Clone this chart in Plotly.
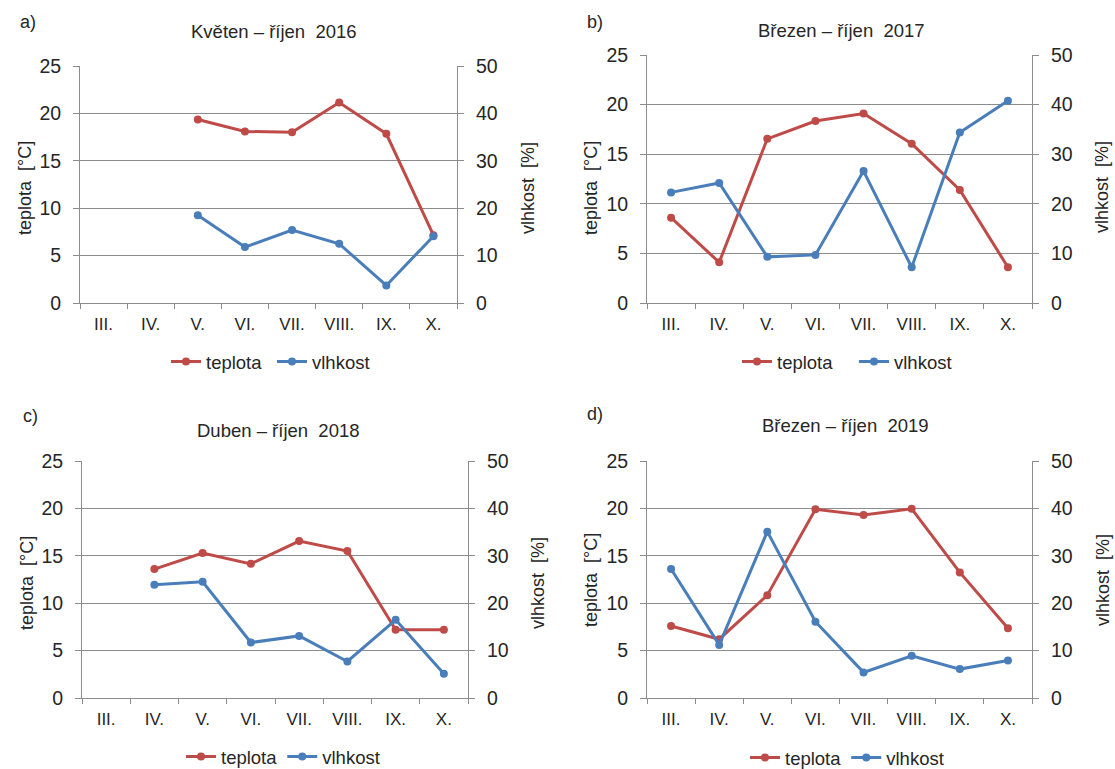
import plotly.graph_objects as go

W, H = 1115, 769

months = ["III.", "IV.", "V.", "VI.", "VII.", "VIII.", "IX.", "X."]

# monthly mean temperature [°C]
temp_2016 = [None, None, 19.35, 18.1, 18.0, 21.15, 17.85, 7.15]
temp_2017 = [8.6, 4.1, 16.55, 18.35, 19.1, 16.05, 11.4, 3.6]
temp_2018 = [None, 13.6, 15.3, 14.15, 16.55, 15.5, 7.2, 7.2]
temp_2019 = [7.6, 6.2, 10.85, 19.9, 19.3, 19.95, 13.25, 7.35]

# monthly mean soil moisture [%]
hum_2016 = [None, None, 18.5, 11.8, 15.4, 12.5, 3.7, 14.1]
hum_2017 = [22.3, 24.2, 9.3, 9.7, 26.6, 7.2, 34.4, 40.8]
hum_2018 = [None, 23.9, 24.5, 11.7, 13.1, 7.7, 16.5, 5.1]
hum_2019 = [27.2, 11.2, 35.1, 16.1, 5.4, 8.9, 6.1, 7.9]

panel_letters = ["a)", "b)", "c)", "d)"]
panel_titles = [
    "Květen – říjen\u00a0 2016",
    "Březen – říjen\u00a0 2017",
    "Duben – říjen\u00a0 2018",
    "Březen – říjen\u00a0 2019",
]
temps = [temp_2016, temp_2017, temp_2018, temp_2019]
hums = [hum_2016, hum_2017, hum_2018, hum_2019]

# plot-area boxes in pixels: (left, right, top, bottom)
boxes = [
    (80, 457, 66, 303),
    (647, 1032, 55, 303),
    (82, 468, 461, 698),
    (647, 1032, 461, 698),
]
letter_pos = [(28, 22), (595, 22), (30, 416), (595, 414)]
title_pos = [(274, 32), (841, 31), (278, 430), (846, 425)]
ylab_pos = [(25, 188), (591, 188), (27, 583), (591, 580)]
y2lab_pos = [(528, 188), (1102, 187), (538, 583), (1103, 580)]
legend_pos = [(272, 362), (854, 362), (283, 757), (847, 758)]
legend_entry = [61, 72, 0, 0]

RED = "#BE4B48"
BLUE = "#4A7EBB"
GRID = "#8C8C8C"
TXT = "#262626"
FONT = "Liberation Sans, Arial, sans-serif"


def px_x(v):
    return v / W


def px_y(v):
    return 1 - v / H


fig = go.Figure()
annotations = []
layout = dict(
    width=W,
    height=H,
    margin=dict(l=0, r=0, t=0, b=0, autoexpand=False),
    paper_bgcolor="white",
    plot_bgcolor="white",
    font=dict(family=FONT, size=18, color=TXT),
)


def note(text, x, y, size, angle=0):
    annotations.append(dict(
        text=text, x=px_x(x), y=px_y(y), xref="paper", yref="paper",
        xanchor="center", yanchor="middle", showarrow=False,
        textangle=angle, font=dict(size=size, color=TXT),
    ))


for i in range(4):
    n = i + 1
    xa = "x" if n == 1 else f"x{n}"
    ya = "y" if i == 0 else f"y{2 * i + 1}"
    ya2 = f"y{2 * i + 2}"
    leg = "legend" if n == 1 else f"legend{n}"

    fig.add_trace(go.Scatter(
        x=months, y=temps[i], name="teplota", mode="lines+markers",
        line=dict(color=RED, width=3), marker=dict(size=8, color=RED),
        xaxis=xa, yaxis=ya, legend=leg, connectgaps=False,
    ))
    fig.add_trace(go.Scatter(
        x=months, y=hums[i], name="vlhkost", mode="lines+markers",
        line=dict(color=BLUE, width=3), marker=dict(size=8, color=BLUE),
        xaxis=xa, yaxis=ya2, legend=leg, connectgaps=False,
    ))

    l, r, t, b = boxes[i]
    xkey = "xaxis" if n == 1 else f"xaxis{n}"
    ykey = "yaxis" if i == 0 else f"yaxis{2 * i + 1}"
    y2key = f"yaxis{2 * i + 2}"

    layout[xkey] = dict(
        domain=[px_x(l), px_x(r)], anchor=ya, type="category",
        categoryorder="array", categoryarray=months, range=[-0.5, 7.5],
        showline=True, linecolor=GRID, linewidth=1, showgrid=False,
        ticks="outside", tickson="boundaries", ticklen=5, tickcolor=GRID,
        ticklabelstandoff=6, tickfont=dict(size=17, color=TXT),
        zeroline=False, automargin=False,
    )
    layout[ykey] = dict(
        domain=[px_y(b), px_y(t)], anchor=xa, range=[0, 25], dtick=5,
        showgrid=True, gridcolor=GRID, gridwidth=1, zeroline=False,
        showline=True, linecolor=GRID, ticks="outside", ticklen=6,
        tickcolor=GRID, ticklabelstandoff=8,
        tickfont=dict(size=19.5, color=TXT), automargin=False,
    )
    layout[y2key] = dict(
        domain=[px_y(b), px_y(t)], anchor=xa, overlaying=ya, side="right",
        range=[0, 50], dtick=10, showgrid=False, zeroline=False,
        showline=True, linecolor=GRID, ticks="outside", ticklen=6,
        tickcolor=GRID, ticklabelstandoff=8,
        tickfont=dict(size=19.5, color=TXT), automargin=False,
    )

    lx, ly = legend_pos[i]
    legend_cfg = dict(
        orientation="h", x=px_x(lx), xanchor="center", y=px_y(ly),
        yanchor="middle", font=dict(size=18.5, color=TXT), itemwidth=30,
        bgcolor="rgba(0,0,0,0)",
    )
    if legend_entry[i]:
        legend_cfg["entrywidth"] = legend_entry[i]
    layout[leg] = legend_cfg

    note(panel_letters[i], *letter_pos[i], 18)
    note(panel_titles[i], *title_pos[i], 18.5)
    note("teplota\u00a0 [°C]", *ylab_pos[i], 18, -90)
    note("vlhkost\u00a0 [%]", *y2lab_pos[i], 18, -90)

layout["annotations"] = annotations
fig.update_layout(**layout)
fig.write_html("out.html")
